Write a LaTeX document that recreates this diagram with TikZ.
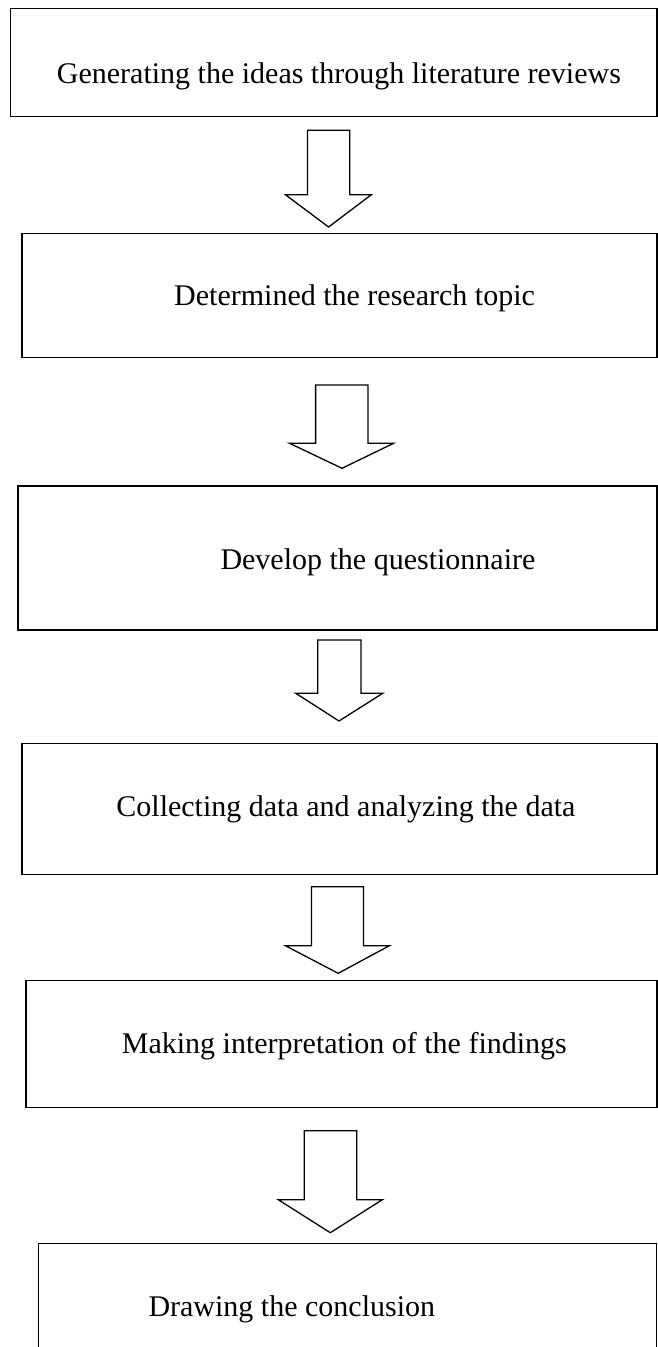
\documentclass[tikz,border=0pt]{standalone}
\usepackage{fontspec}
\setmainfont{Liberation Serif}
\begin{document}
\begin{tikzpicture}[x=1pt,y=-1pt,
  stepbox/.style={draw=black,line width=1.5pt,fill=none},
  steptext/.style={anchor=base west,inner sep=0pt,font=\fontsize{30}{36}\selectfont},
  blockarrow/.style={draw=black,line width=1.3pt,line join=miter,fill=white}]
\useasboundingbox (0,0) rectangle (658,1347);
\clip (0,0) rectangle (658,1347);
\fill[white] (0,0) rectangle (658,1347);
% boxes
\draw[stepbox] (10.5,8.3) rectangle (657,116.7) node[coordinate] (b1se) {};
\draw[stepbox] (21.8,233.3) rectangle (657,357.7);
\draw[stepbox] (18,486) rectangle (657,630);
\draw[stepbox] (21.8,743.7) rectangle (657,874.3);
\draw[stepbox] (26,980.3) rectangle (657,1107.5);
\draw[stepbox] (38.3,1243.7) rectangle (656.7,1370);
% texts
\node[steptext] (t1) at (56.7,83.3) {Generating the ideas through literature reviews};
\node[steptext] (t2) at (174,305.7) {Determined the research topic};
\node[steptext] (t3) at (220.3,569.3) {Develop the questionnaire};
\node[steptext] (t4) at (116.2,816.7) {Collecting data and analyzing the data};
\node[steptext] (t5) at (121.7,1053.3) {Making interpretation of the findings};
\node[steptext] (t6) at (148.3,1316) {Drawing the conclusion};
% block arrows
\draw[blockarrow] (307.5,130.3) -- (349.8,130.3) -- (349.8,194.8) -- (371.2,194.8)
  -- (328.6,227) -- (285.5,194.8) -- (307.5,194.8) -- cycle;
\draw[blockarrow] (315.6,385) -- (368,385) -- (368,443.3) -- (393.6,443.3)
  -- (342,468.3) -- (289.6,443.3) -- (315.6,443.3) -- cycle;
\draw[blockarrow] (317.7,640) -- (360.9,640) -- (360.9,693.3) -- (382.7,693.3)
  -- (339,721) -- (295.8,693.3) -- (317.7,693.3) -- cycle;
\draw[blockarrow] (311.4,886.7) -- (363.4,886.7) -- (363.4,945.7) -- (389.4,945.7)
  -- (338.2,973.3) -- (285.4,945.7) -- (311.4,945.7) -- cycle;
\draw[blockarrow] (304.3,1130.7) -- (356.7,1130.7) -- (356.7,1199.7) -- (382.3,1199.7)
  -- (330.3,1232.7) -- (278.3,1199.7) -- (304.3,1199.7) -- cycle;
\end{tikzpicture}
\end{document}
